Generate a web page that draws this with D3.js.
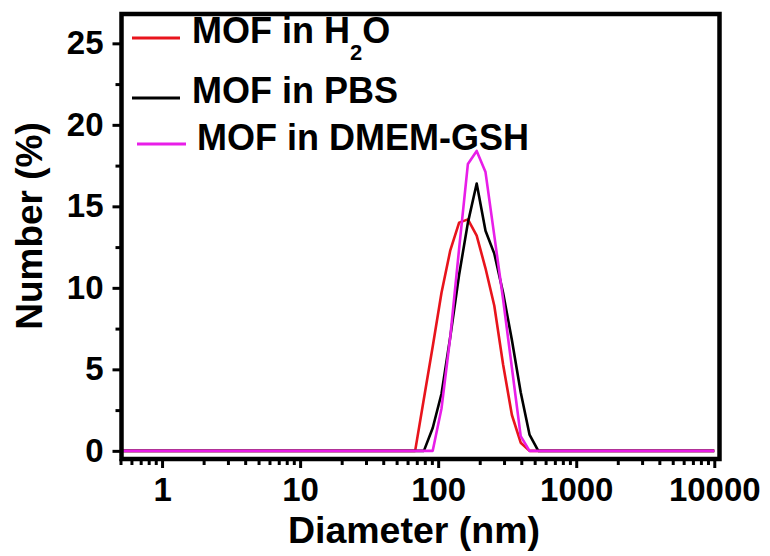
<!DOCTYPE html>
<html>
<head>
<meta charset="utf-8">
<script src="https://cdn.jsdelivr.net/npm/d3@7"></script>
<style>
  body { margin: 0; background: #fff; }
  svg { display: block; font-family: "Liberation Sans", Arial, sans-serif; font-weight: bold; }
</style>
</head>
<body>
<svg width="770" height="556"></svg>
<script>
// diameter bins (nm)
const SIZES = [0.5, 68.1, 78.8, 91.3, 105.7, 122.4, 141.8, 164.2, 190.1, 220.2, 255.0, 295.3, 342.0, 396.1, 458.7, 531.2, 615.1, 10000];
const H2O  = [0, 0, 3.2, 6.4, 9.7, 12.3, 14.0, 14.2, 13.2, 11.2, 8.9, 5.3, 2.2, 0.5, 0, 0, 0, 0];
const PBS  = [0, 0, 0, 1.4, 3.5, 7.0, 10.8, 14.0, 16.4, 13.5, 12.1, 9.7, 6.8, 3.6, 1.0, 0, 0, 0];
const DMEM = [0, 0, 0, 0, 2.6, 7.0, 12.4, 17.6, 18.4, 17.1, 13.2, 9.3, 5.1, 0.9, 0, 0, 0, 0];

const X_TICKS = [1, 10, 100, 1000, 10000];
const Y_TICKS = [0, 5, 10, 15, 20, 25];
const Y_MINOR = [2.5, 7.5, 12.5, 17.5, 22.5];

const SERIES = [
  { name: "H2O", values: H2O, color: "#e8141c" },
  { name: "PBS", values: PBS, color: "#000000" },
  { name: "DMEM", values: DMEM, color: "#e81ee8" }
];

const LEFT = 121.5, RIGHT = 719.5, TOP = 14, BOTTOM = 459;

const x = d3.scaleLog().domain([0.5, 11000]).range([120.5, 720]);
const y = d3.scaleLinear().domain([-0.5, 26.8]).range([BOTTOM, TOP]);

const svg = d3.select("svg");

// data lines
const line = d3.line()
  .x((d, i) => x(SIZES[i]))
  .y(d => y(d));

svg.selectAll(".series")
  .data(SERIES)
  .enter()
  .append("path")
  .attr("class", "series")
  .attr("d", d => line(d.values))
  .attr("fill", "none")
  .attr("stroke", d => d.color)
  .attr("stroke-width", 2.6)
  .attr("stroke-linejoin", "round");

// x axis: minor then major
const minorX = x.ticks().filter(t => X_TICKS.indexOf(t) === -1);
svg.append("g")
  .attr("transform", `translate(0,${BOTTOM})`)
  .call(d3.axisBottom(x).tickValues(minorX).tickSize(6).tickFormat(""))
  .call(g => g.select(".domain").remove())
  .call(g => g.selectAll("line").attr("stroke-width", 3));

svg.append("g")
  .attr("transform", `translate(0,${BOTTOM})`)
  .call(d3.axisBottom(x).tickValues(X_TICKS).tickSize(9).tickPadding(10).tickFormat(d3.format("d")))
  .call(g => g.select(".domain").remove())
  .call(g => g.selectAll("line").attr("stroke-width", 3))
  .call(g => g.selectAll("text").attr("font-size", 33).attr("fill", "#000"));

// y axis
svg.append("g")
  .attr("transform", `translate(${LEFT},0)`)
  .call(d3.axisLeft(y).tickValues(Y_MINOR).tickSize(6).tickFormat(""))
  .call(g => g.select(".domain").remove())
  .call(g => g.selectAll("line").attr("stroke-width", 3));

svg.append("g")
  .attr("transform", `translate(${LEFT},0)`)
  .call(d3.axisLeft(y).tickValues(Y_TICKS).tickSize(9).tickPadding(9))
  .call(g => g.select(".domain").remove())
  .call(g => g.selectAll("line").attr("stroke-width", 3))
  .call(g => g.selectAll("text").attr("font-size", 33).attr("fill", "#000"));

// frame
svg.append("rect")
  .attr("x", LEFT).attr("y", TOP)
  .attr("width", RIGHT - LEFT).attr("height", BOTTOM - TOP)
  .attr("fill", "none")
  .attr("stroke", "#000")
  .attr("stroke-width", 4.5);

// axis titles
svg.append("text")
  .attr("x", 414).attr("y", 543)
  .attr("text-anchor", "middle")
  .attr("font-size", 37.5)
  .text("Diameter (nm)");

svg.append("text")
  .attr("transform", "translate(42,226) rotate(-90)")
  .attr("text-anchor", "middle")
  .attr("font-size", 37)
  .text("Number (%)");

// legend
const legend = [
  { x1: 132, x2: 180, ly: 38, tx: 192, ty: 43 },
  { x1: 132, x2: 180, ly: 98, tx: 192, ty: 103 },
  { x1: 137, x2: 186, ly: 144, tx: 197, ty: 150 }
];

const items = svg.selectAll(".legend")
  .data(SERIES)
  .enter()
  .append("g")
  .attr("class", "legend");

items.append("line")
  .attr("x1", (d, i) => legend[i].x1)
  .attr("x2", (d, i) => legend[i].x2)
  .attr("y1", (d, i) => legend[i].ly)
  .attr("y2", (d, i) => legend[i].ly)
  .attr("stroke", d => d.color)
  .attr("stroke-width", 3);

const labels = items.append("text")
  .attr("x", (d, i) => legend[i].tx)
  .attr("y", (d, i) => legend[i].ty)
  .attr("font-size", 36);

labels.filter(d => d.name === "H2O").each(function() {
  const t = d3.select(this);
  t.append("tspan").text("MOF in H");
  t.append("tspan").attr("font-size", 22).attr("dy", 17).text("2");
  t.append("tspan").attr("dy", -17).text("O");
});
labels.filter(d => d.name === "PBS").text("MOF in PBS");
labels.filter(d => d.name === "DMEM").text("MOF in DMEM-GSH");
</script>
</body>
</html>
